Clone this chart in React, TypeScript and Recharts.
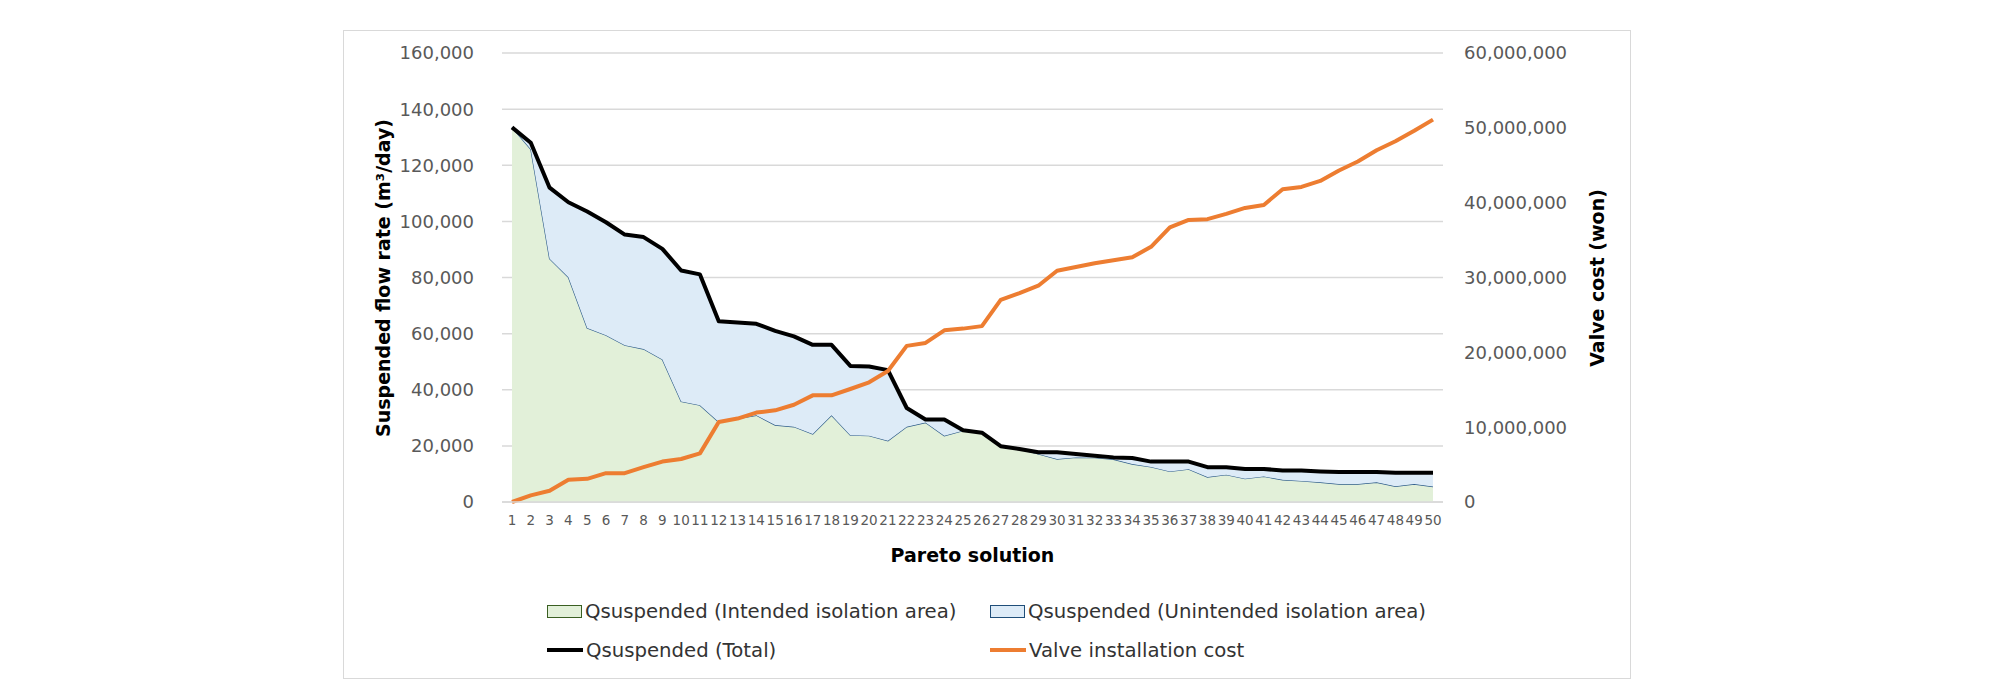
import React from "react";
import { ComposedChart, Area, Line, XAxis, YAxis, CartesianGrid, Label } from "recharts";

// Pareto solutions 1..50
const solutions = [
  1, 2, 3, 4, 5, 6, 7, 8, 9, 10, 11, 12, 13, 14, 15, 16, 17, 18, 19, 20, 21, 22, 23, 24, 25,
  26, 27, 28, 29, 30, 31, 32, 33, 34, 35, 36, 37, 38, 39, 40, 41, 42, 43, 44, 45, 46, 47, 48, 49, 50,
];

// Qsuspended, intended isolation area (m3/day)
const intended = [
  133500, 125700, 86700, 80100, 62000, 59400, 55900, 54500, 50800, 35800, 34500, 28500, 29700,
  30900, 27400, 26800, 24200, 30900, 23800, 23600, 21800, 26800, 28300, 23600, 25400, 24500,
  19700, 18800, 17100, 15300, 15900, 15800, 15200, 13500, 12500, 10900, 11700, 8900, 9700, 8300,
  9100, 7900, 7500, 7000, 6400, 6400, 7000, 5600, 6400, 5500,
];

// Qsuspended, unintended isolation area (band above intended)
const unintended = [
  0, 2300, 25300, 26700, 41500, 40300, 39400, 39900, 39400, 46700, 46600, 35900, 34300, 32600,
  33600, 32200, 31800, 25100, 24700, 24700, 25200, 6700, 1100, 5800, 200, 200, 200, 100, 600,
  2400, 1200, 700, 700, 2200, 1900, 3500, 2700, 3500, 2700, 3500, 2700, 3300, 3700, 3900, 4300,
  4300, 3700, 4800, 4000, 4900,
];

// Qsuspended total
const total = [
  133500, 128000, 112000, 106800, 103500, 99700, 95300, 94400, 90200, 82500, 81100, 64400, 64000,
  63500, 61000, 59000, 56000, 56000, 48500, 48300, 47000, 33500, 29400, 29400, 25600, 24700,
  19900, 18900, 17700, 17700, 17100, 16500, 15900, 15700, 14400, 14400, 14400, 12400, 12400,
  11800, 11800, 11200, 11200, 10900, 10700, 10700, 10700, 10400, 10400, 10400,
];

// Valve installation cost (won)
const valveCost = [
  0, 880000, 1500000, 2970000, 3100000, 3850000, 3850000, 4650000, 5400000, 5750000, 6500000,
  10700000, 11150000, 11950000, 12250000, 13000000, 14250000, 14250000, 15100000, 16000000,
  17500000, 20860000, 21260000, 22940000, 23170000, 23500000, 27000000, 27900000, 28900000,
  30900000, 31400000, 31900000, 32300000, 32700000, 34100000, 36700000, 37700000, 37800000,
  38500000, 39300000, 39700000, 41800000, 42100000, 42900000, 44300000, 45500000, 47000000,
  48200000, 49600000, 51100000,
];

const flowTicks = [0, 20000, 40000, 60000, 80000, 100000, 120000, 140000, 160000];
const costTicks = [0, 10000000, 20000000, 30000000, 40000000, 50000000, 60000000];

const data = solutions.map((s, i) => ({
  solution: s,
  intended: intended[i],
  unintended: unintended[i],
  total: total[i],
  cost: valveCost[i],
}));

const FONT = '"DejaVu Sans", Verdana, sans-serif';
const fmt = (v: number) => v.toLocaleString("en-US");

function VTitle({ text, cx, cy }: { text: string; cx: number; cy: number }) {
  return (
    <text
      x={cx}
      y={cy}
      transform={`rotate(-90 ${cx} ${cy})`}
      textAnchor="middle"
      dominantBaseline="central"
      fontFamily={FONT}
      fontWeight="bold"
      fontSize={19}
      fill="#000"
    >
      {text}
    </text>
  );
}

function XTitle({ text, cx, cy }: { text: string; cx: number; cy: number }) {
  return (
    <text
      x={cx}
      y={cy}
      textAnchor="middle"
      dominantBaseline="central"
      fontFamily={FONT}
      fontWeight="bold"
      fontSize={19}
      fill="#000"
    >
      {text}
    </text>
  );
}

type KeyProps = {
  left: number;
  top: number;
  label: string;
  kind: "box" | "line";
  fill: string;
  stroke: string;
};

function LegendKey({ left, top, label, kind, fill, stroke }: KeyProps) {
  return (
    <div
      style={{
        position: "absolute",
        left,
        top,
        height: 24,
        display: "flex",
        alignItems: "center",
        fontFamily: FONT,
        fontSize: 19.7,
        color: "#333",
        whiteSpace: "nowrap",
      }}
    >
      {kind === "box" ? (
        <span
          style={{
            display: "inline-block",
            width: 33,
            height: 11,
            background: fill,
            border: `1.5px solid ${stroke}`,
          }}
        />
      ) : (
        <span style={{ display: "inline-block", width: 36, height: 4, background: stroke }} />
      )}
      <span style={{ marginLeft: 3 }}>{label}</span>
    </div>
  );
}

export default function App() {
  return (
    <div style={{ position: "relative", width: 2000, height: 680, background: "#fff" }}>
      <div
        style={{
          position: "absolute",
          left: 335,
          top: 22,
          width: 1286,
          height: 647,
          border: "1px solid #D9D9D9",
          background: "#fff",
        }}
      >
        <ComposedChart
          width={1286}
          height={647}
          data={data}
          margin={{ top: 22, right: 0, bottom: 116, left: 0 }}
        >
          <CartesianGrid vertical={false} stroke="#D9D9D9" strokeWidth={1.5} yAxisId="left" />
          <XAxis
            dataKey="solution"
            scale="point"
            padding={{ left: 10, right: 10 }}
            interval={0}
            height={60}
            tickSize={0}
            tickMargin={13}
            tickLine={false}
            axisLine={{ stroke: "#D9D9D9", strokeWidth: 1.5 }}
            tick={{ fill: "#595959", fontSize: 13.5, fontFamily: FONT }}
          >
            <Label content={<XTitle text="Pareto solution" cx={628.5} cy={524} />} />
          </XAxis>
          <YAxis
            yAxisId="left"
            domain={[0, 160000]}
            ticks={flowTicks}
            tickFormatter={fmt}
            width={158}
            axisLine={false}
            tickLine={false}
            tickSize={0}
            tickMargin={28}
            tick={{ fill: "#595959", fontSize: 18, fontFamily: FONT }}
          >
            <Label content={<VTitle text="Suspended flow rate (m³/day)" cx={39} cy={247} />} />
          </YAxis>
          <YAxis
            yAxisId="right"
            orientation="right"
            domain={[0, 60000000]}
            ticks={costTicks}
            tickFormatter={fmt}
            width={187}
            axisLine={false}
            tickLine={false}
            tickSize={0}
            tickMargin={21}
            tick={{ fill: "#595959", fontSize: 18, fontFamily: FONT }}
          >
            <Label content={<VTitle text="Valve cost (won)" cx={1253} cy={247} />} />
          </YAxis>
          <Area
            yAxisId="left"
            type="linear"
            dataKey="intended"
            stackId="q"
            fill="#E2F0D9"
            fillOpacity={1}
            stroke="#2F5D8A"
            strokeWidth={1.2}
            dot={false}
            activeDot={false}
            isAnimationActive={false}
          />
          <Area
            yAxisId="left"
            type="linear"
            dataKey="unintended"
            stackId="q"
            fill="#DDEBF7"
            fillOpacity={1}
            stroke="none"
            dot={false}
            activeDot={false}
            isAnimationActive={false}
          />
          <Line
            yAxisId="left"
            type="linear"
            dataKey="total"
            stroke="#000"
            strokeWidth={4}
            strokeLinejoin="round"
            dot={false}
            activeDot={false}
            isAnimationActive={false}
          />
          <Line
            yAxisId="right"
            type="linear"
            dataKey="cost"
            stroke="#ED7D31"
            strokeWidth={4}
            strokeLinejoin="round"
            dot={false}
            activeDot={false}
            isAnimationActive={false}
          />
        </ComposedChart>
        <LegendKey left={203} top={568} kind="box" fill="#E2F0D9" stroke="#3A5F22" label="Qsuspended (Intended isolation area)" />
        <LegendKey left={646} top={568} kind="box" fill="#DDEBF7" stroke="#1F4E79" label="Qsuspended (Unintended isolation area)" />
        <LegendKey left={203} top={607} kind="line" fill="#000" stroke="#000" label="Qsuspended (Total)" />
        <LegendKey left={646} top={607} kind="line" fill="#ED7D31" stroke="#ED7D31" label="Valve installation cost" />
      </div>
    </div>
  );
}
